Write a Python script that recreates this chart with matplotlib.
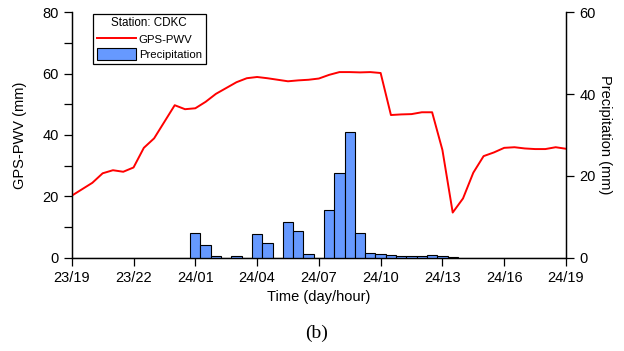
import numpy as np
import matplotlib.pyplot as plt
from matplotlib.patches import Patch
from matplotlib.lines import Line2D

plt.rcParams["font.family"] = ["Liberation Sans", "DejaVu Sans"]

# -- Data (half-hourly samples, 23/19 -> 24/19) --------------------
hours = np.arange(49) * 0.5

pwv = [20.2, 22.3, 24.4, 27.5, 28.5, 28.0, 29.4, 35.8, 38.9, 44.3,
       49.7, 48.4, 48.7, 50.8, 53.4, 55.3, 57.2, 58.5, 58.9, 58.5,
       58.0, 57.5, 57.8, 58.0, 58.4, 59.6, 60.5, 60.5, 60.4, 60.5,
       60.2, 46.5, 46.7, 46.8, 47.4, 47.4, 35.1, 14.7, 19.3, 27.7,
       33.1, 34.3, 35.8, 36.0, 35.6, 35.4, 35.4, 36.0, 35.5]

precip = [0, 0, 0, 0, 0, 0, 0, 0, 0, 0,
          0, 0, 6.0, 3.2, 0.35, 0, 0.3, 0, 5.8, 3.5,
          0, 8.6, 6.4, 0.8, 0, 11.6, 20.8, 30.7, 6.0, 1.15,
          1.0, 0.6, 0.4, 0.4, 0.4, 0.65, 0.3, 0.2, 0, 0,
          0, 0, 0, 0, 0, 0, 0, 0, 0]

tick_hours = [0, 3, 6, 9, 12, 15, 18, 21, 24]
tick_labels = ["23/19", "23/22", "24/01", "24/04", "24/07",
               "24/10", "24/13", "24/16", "24/19"]

RED = "#FF0000"
BLUE = "#6699FF"

fig = plt.figure(figsize=(6.24, 3.51), dpi=100)
ax = fig.add_axes([0.115, 0.266, 0.792, 0.699])
ax2 = ax.twinx()

ax.plot(hours, pwv, color=RED, lw=1.4, zorder=3)
ax2.bar(hours, precip, width=0.5, color=BLUE, edgecolor="black",
        linewidth=0.8, align="center", zorder=2)

ax.set_xlim(0, 24)
ax.set_ylim(0, 80)
ax2.set_ylim(0, 60)

ax.set_xticks(tick_hours)
ax.set_xticklabels(tick_labels)
ax.set_yticks([0, 20, 40, 60, 80])
ax.set_yticks([10, 30, 50, 70], minor=True)
ax2.set_yticks([0, 20, 40, 60])

for a in (ax, ax2):
    a.spines["top"].set_visible(False)
    for s in a.spines.values():
        s.set_linewidth(0.9)
    a.tick_params(which="both", direction="out", length=6, width=0.9,
                  labelsize=10.5)

ax.set_xlabel("Time (day/hour)", fontsize=10.5)
ax.set_ylabel("GPS-PWV (mm)", fontsize=10.5, va="center")
ax.yaxis.set_label_coords(-0.104, 0.5)
ax2.set_ylabel("Precipitation (mm)", fontsize=10.5, rotation=270,
               va="center")
ax2.yaxis.set_label_coords(1.079, 0.5)

handles = [Line2D([], [], color=RED, lw=1.4),
           Patch(facecolor=BLUE, edgecolor="black", linewidth=0.8)]
leg = ax2.legend(handles, ["GPS-PWV", "Precipitation"],
                 title="Station: CDKC", loc="upper left",
                 bbox_to_anchor=(0.042, 0.995), borderaxespad=0,
                 fontsize=8.2, title_fontsize=8.4, fancybox=False,
                 framealpha=1, edgecolor="black", handlelength=3.5,
                 handleheight=1.2, handletextpad=0.2, labelspacing=0.3,
                 borderpad=0.35)
leg.get_frame().set_linewidth(0.9)

fig.text(0.507, 0.051, "(b)", ha="center", va="center",
         fontsize=14, family=["Liberation Serif", "DejaVu Serif"])

fig.savefig("out.png", dpi=100)
